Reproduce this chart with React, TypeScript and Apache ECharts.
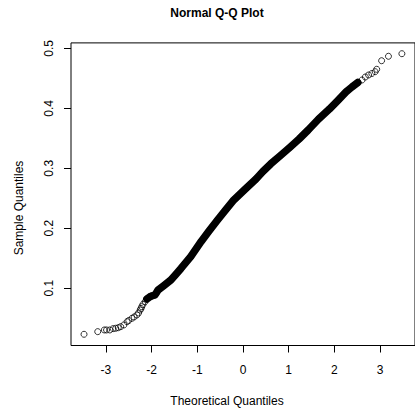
import React, { useEffect, useRef } from "react";
import * as echarts from "echarts";

// Theoretical quantiles (x) and sample quantiles (y)
const theoretical = [
  -3.48, -3.18, -3.036, -2.987, -2.914, -2.843, -2.786, -2.73, -2.678, -2.608,
  -2.537, -2.501, -2.43, -2.383, -2.323, -2.286, -2.25, -2.233, -2.216, -2.19,
  -2.143, -2.104, -2.036, -1.986, -1.928, -1.89, -1.858, -1.729, -1.579, -1.472,
  -1.358, -1.144, -0.915, -0.744, -0.557, -0.379, -0.201, 0.028, 0.285, 0.435,
  0.606, 0.821, 1.035, 1.228, 1.427, 1.656, 1.892, 2.085, 2.256, 2.385,
  2.513, 2.606, 2.678, 2.749, 2.82, 2.893, 2.927, 3.034, 3.184, 3.478,
];
const sample = [
  0.0233, 0.0277, 0.0305, 0.0305, 0.0305, 0.0327, 0.0333, 0.0343, 0.036, 0.0388,
  0.0443, 0.0463, 0.05, 0.0522, 0.0555, 0.0588, 0.0638, 0.0663, 0.0693, 0.073,
  0.0777, 0.0822, 0.086, 0.0875, 0.0888, 0.093, 0.0972, 0.1047, 0.1138, 0.123,
  0.133, 0.1527, 0.178, 0.1955, 0.2138, 0.2305, 0.2472, 0.2638, 0.2822, 0.2947,
  0.3072, 0.3213, 0.3355, 0.3488, 0.3638, 0.3822, 0.3988, 0.4138, 0.4272, 0.4355,
  0.443, 0.4472, 0.4522, 0.4555, 0.458, 0.461, 0.465, 0.4793, 0.4867, 0.491,
];
const xTicks = [-3, -2, -1, 0, 1, 2, 3];
const yTicks = [0.1, 0.2, 0.3, 0.4, 0.5];
const titleText = "Normal Q-Q Plot";
const xTitle = "Theoretical Quantiles";
const yTitle = "Sample Quantiles";

// range of points where the symbols overlap into a solid band
const denseFrom = 21;
const denseTo = 50;

const FONT = "'Liberation Sans', Arial, sans-serif";

export default function App() {
  const ref = useRef<HTMLDivElement>(null);
  useEffect(() => {
    if (!ref.current) return;
    const chart = echarts.init(ref.current, undefined, { renderer: "svg" });
    const points = theoretical.map((x, i) => [x, sample[i]]);
    const dense = points.slice(denseFrom, denseTo + 1);
    chart.setOption({
      animation: false,
      backgroundColor: "#fff",
      grid: {
        left: 71,
        top: 42.9,
        width: 351.4,
        height: 302.6,
        show: true,
        borderColor: "#000",
        borderWidth: 1,
        backgroundColor: "transparent",
      },
      xAxis: {
        type: "value",
        min: -3.765,
        max: 3.765,
        splitLine: { show: false },
        axisLine: { show: false, onZero: false },
        axisTick: {
          show: true,
          length: 7,
          lineStyle: { color: "#000", width: 1 },
          customValues: xTicks,
        },
        axisLabel: {
          show: true,
          margin: 18,
          color: "#000",
          fontSize: 12,
          fontFamily: FONT,
          customValues: xTicks,
          formatter: (v: number) => String(v),
        },
      },
      yAxis: {
        type: "value",
        min: 0.0046,
        max: 0.509,
        splitLine: { show: false },
        axisLine: { show: false, onZero: false },
        axisTick: {
          show: true,
          length: 7,
          lineStyle: { color: "#000", width: 1 },
          customValues: yTicks,
        },
        axisLabel: {
          show: true,
          margin: 16,
          rotate: 90,
          color: "#000",
          fontSize: 12,
          fontFamily: FONT,
          customValues: yTicks,
          formatter: (v: number) => v.toFixed(1),
        },
      },
      series: [
        {
          type: "line",
          data: dense,
          showSymbol: false,
          symbol: "none",
          smooth: false,
          lineStyle: { color: "#000", width: 7.5, cap: "round", join: "round" },
          silent: true,
          z: 1,
        },
        {
          type: "scatter",
          data: points,
          symbol: "circle",
          symbolSize: 6,
          itemStyle: { color: "transparent", borderColor: "#000", borderWidth: 1 },
          z: 2,
        },
      ],
      graphic: [
        {
          type: "text",
          x: 217,
          y: 13,
          style: {
            text: titleText,
            fill: "#000",
            font: `bold 12px ${FONT}`,
            textAlign: "center",
            textVerticalAlign: "middle",
          },
        },
        {
          type: "text",
          x: 227,
          y: 400.5,
          style: {
            text: xTitle,
            fill: "#000",
            font: `12px ${FONT}`,
            textAlign: "center",
            textVerticalAlign: "middle",
          },
        },
        {
          type: "text",
          x: 19,
          y: 208,
          rotation: Math.PI / 2,
          style: {
            text: yTitle,
            fill: "#000",
            font: `12px ${FONT}`,
            textAlign: "center",
            textVerticalAlign: "middle",
          },
        },
      ],
    });
    return () => chart.dispose();
  }, []);
  return (
    <div
      ref={ref}
      style={{ position: "fixed", left: 0, top: 0, width: 415, height: 414 }}
    />
  );
}
